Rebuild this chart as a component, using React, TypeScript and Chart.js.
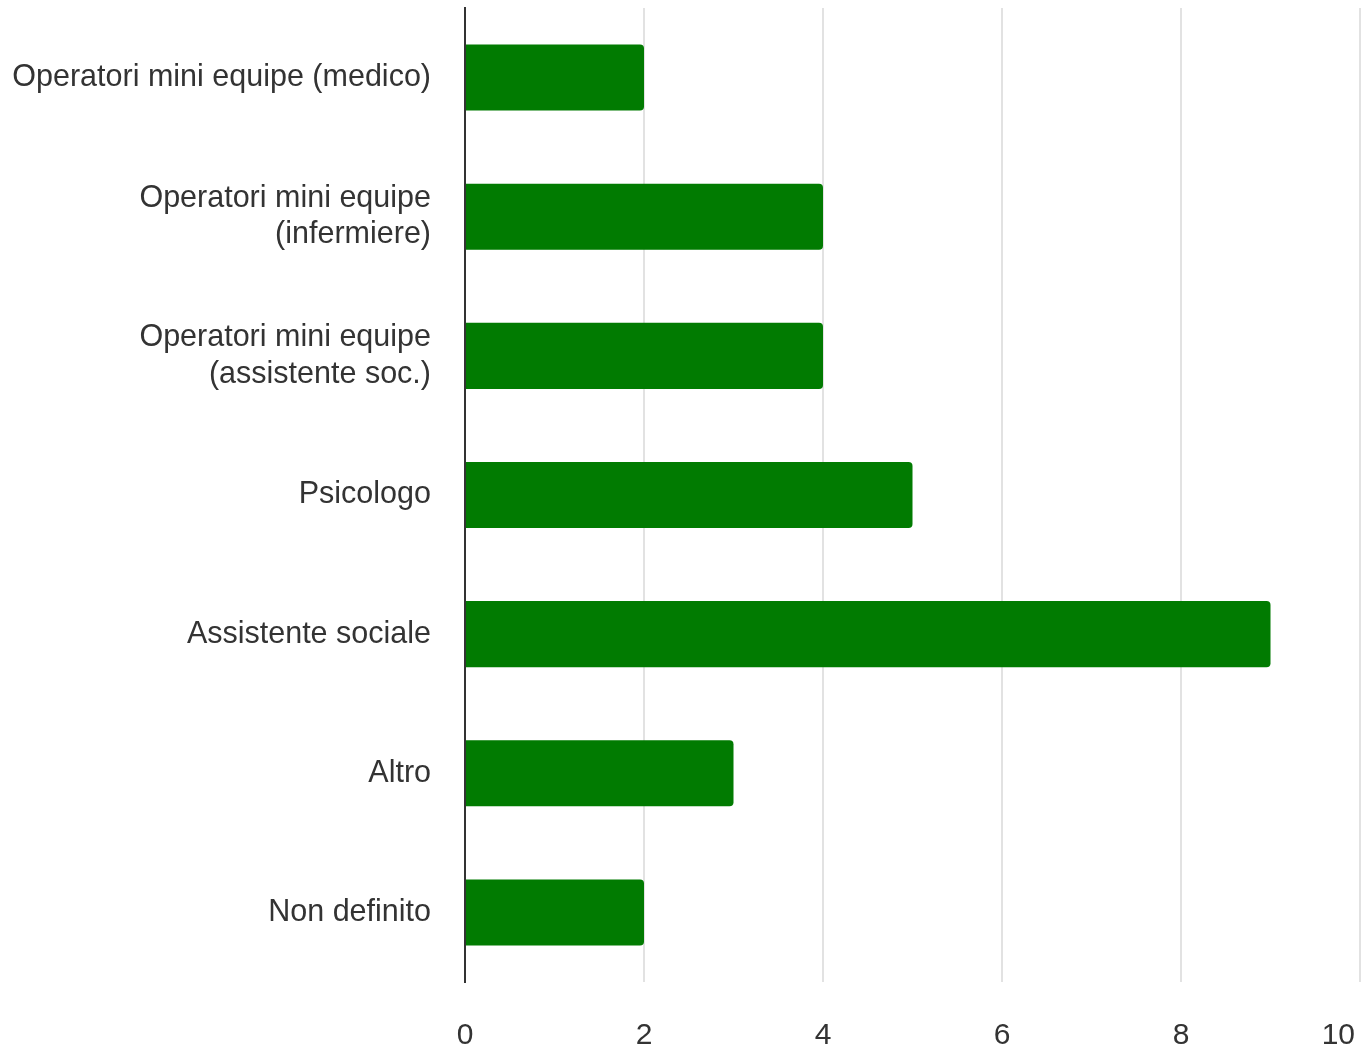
import React, { useEffect, useRef } from "react";
import { Chart, registerables } from "chart.js";

Chart.register(...registerables);

const categories: (string | string[])[] = [
  "Operatori mini equipe (medico)",
  ["Operatori mini equipe", "(infermiere)"],
  ["Operatori mini equipe", "(assistente soc.)"],
  "Psicologo",
  "Assistente sociale",
  "Altro",
  "Non definito",
];
const values = [2, 4, 4, 5, 9, 3, 2];
const xMin = 0;
const xMax = 10;
const xStep = 2;

const FONT = "'Liberation Sans', Arial, sans-serif";

const xLabelsPlugin = {
  id: "xLabels",
  afterDraw(chart: any) {
    const scale = chart.scales.x;
    const c = chart.ctx;
    c.save();
    c.font = `30px ${FONT}`;
    c.fillStyle = "#333";
    c.textBaseline = "middle";
    c.textAlign = "center";
    const y = chart.chartArea.bottom + 54;
    scale.ticks.forEach((t: any, i: number) => {
      const label = String(t.value);
      const w = c.measureText(label).width;
      let x = scale.getPixelForTick(i);
      const maxX = chart.width - 11 - w / 2;
      if (x > maxX) x = maxX;
      c.fillText(label, x, y);
    });
    c.restore();
  },
};

export default function App() {
  const ref = useRef<HTMLCanvasElement | null>(null);
  useEffect(() => {
    document.body.style.margin = "0";
    const ctx = ref.current!;
    const chart = new Chart(ctx, {
      type: "bar",
      data: {
        labels: categories,
        datasets: [
          {
            data: values,
            backgroundColor: "#017b01",
            borderRadius: 4,
            categoryPercentage: 1,
            barPercentage: 0.475,
          },
        ],
      },
      plugins: [xLabelsPlugin],
      options: {
        indexAxis: "y",
        animation: false,
        responsive: false,
        maintainAspectRatio: false,
        layout: { padding: { top: 8, right: 6, left: 0, bottom: 0 } },
        plugins: { legend: { display: false }, tooltip: { enabled: false } },
        scales: {
          x: {
            min: xMin,
            max: xMax,
            ticks: {
              stepSize: xStep,
              display: false,
            },
            grid: { color: "#e2e2e2", lineWidth: 2, drawTicks: false },
            border: { display: false },
            afterFit: (s: any) => {
              s.height = 72;
              s.paddingLeft = 0;
              s.paddingRight = 0;
            },
          },
          y: {
            ticks: {
              color: "#333",
              padding: 34,
              font: { family: FONT, size: 30.5, lineHeight: 1.2 },
            },
            grid: { display: false, drawTicks: false },
            border: { display: true, color: "#333", width: 2 },
            afterFit: (s: any) => {
              s.width = 465;
              s.paddingTop = 0;
              s.paddingBottom = 0;
            },
          },
        },
      },
    });
    return () => chart.destroy();
  }, []);
  return (
    <div style={{ width: 1366, height: 1054, background: "#fff" }}>
      <canvas ref={ref} width={1366} height={1054} style={{ display: "block" }} />
    </div>
  );
}
